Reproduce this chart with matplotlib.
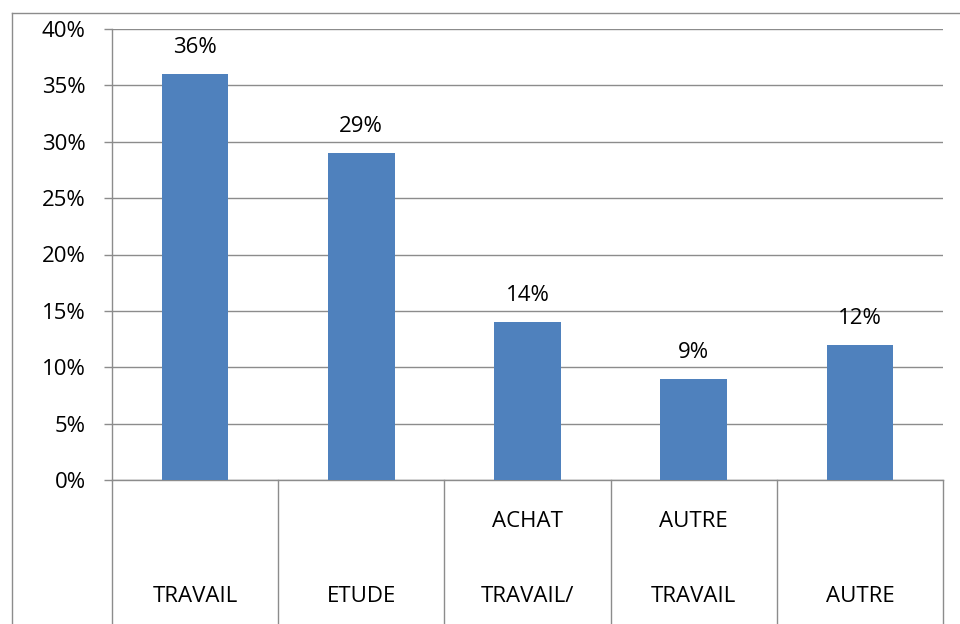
import matplotlib.pyplot as plt
from matplotlib.lines import Line2D

# data
top_line = ["", "", "ACHAT", "AUTRE", ""]
bottom_line = ["TRAVAIL", "ETUDE", "TRAVAIL/", "TRAVAIL", "AUTRE"]
values = [36, 29, 14, 9, 12]
yticks = [0, 5, 10, 15, 20, 25, 30, 35, 40]

bar_color = "#4F81BD"
grey = "#8C8C8C"
plt.rcParams['font.family'] = ['Open Sans', 'DejaVu Sans']
fs = 16

fig = plt.figure(figsize=(9.6, 6.24), dpi=100)
W, H = 960, 624
ax = fig.add_axes([112 / W, 1 - 480 / H, (943 - 112) / W, (480 - 29) / H])

x = range(len(values))
bars = ax.bar(x, values, width=0.4, color=bar_color, zorder=3)
for b, v in zip(bars, values):
    ax.annotate(f"{v}%", (b.get_x() + b.get_width() / 2, v), xytext=(0, 19),
                textcoords="offset points", ha="center", va="center", fontsize=fs)

ax.set_xlim(-0.5, len(values) - 0.5)
ax.set_ylim(0, 40)
ax.set_yticks(yticks)
ax.set_yticklabels([f"{t}%" for t in yticks], fontsize=fs)
ax.yaxis.grid(True, color=grey, lw=1.0, zorder=0)
ax.tick_params(axis="y", length=6, width=1.0, color=grey, pad=13)
ax.set_xticks([])
for s in ["top", "right"]:
    ax.spines[s].set_visible(False)
for s in ["left", "bottom"]:
    ax.spines[s].set_color(grey)
    ax.spines[s].set_linewidth(1.0)

# category boxes below the axis
tr = ax.get_xaxis_transform()
for i in range(len(values) + 1):
    ax.plot([i - 0.5, i - 0.5], [0, -0.32], transform=tr, color=grey, lw=1.0, clip_on=False)
for i, (t, b) in enumerate(zip(top_line, bottom_line)):
    if t:
        ax.text(i, -0.093, t, transform=tr, ha="center", va="center", fontsize=fs)
    ax.text(i, -0.258, b, transform=tr, ha="center", va="center", fontsize=fs)

# outer frame
fig.add_artist(Line2D([12 / W, 12 / W], [0, 1 - 13 / H], color=grey, lw=1.0))
fig.add_artist(Line2D([12 / W, 1], [1 - 13 / H, 1 - 13 / H], color=grey, lw=1.0))

fig.savefig("out.png", dpi=100)
